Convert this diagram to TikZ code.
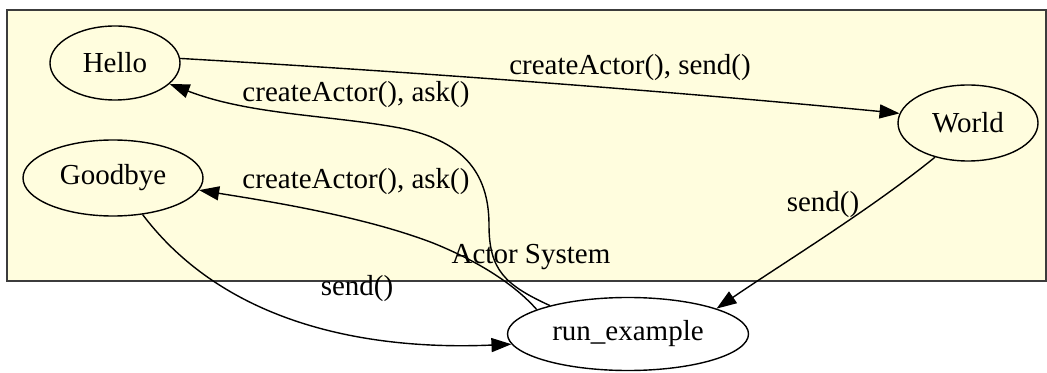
\documentclass[tikz,border=0pt]{standalone}
\usepackage{fontspec}
\setmainfont{Liberation Serif}
\usetikzlibrary{arrows.meta,shapes.geometric}
\definecolor{clusterfill}{RGB}{255,253,222}
\definecolor{clusterline}{RGB}{60,60,60}
\tikzset{
  state/.style={ellipse,draw=black,line width=0.7pt,inner sep=0pt,font=\fontsize{14.5}{17}\selectfont},
  edge/.style={draw=black,line width=0.7pt,-{Triangle[length=10pt,width=7pt]}},
  lbl/.style={inner sep=0pt,font=\fontsize{14.5}{17}\selectfont},
}
\begin{document}
\begin{tikzpicture}[x=0.5pt,y=-0.5pt]
\useasboundingbox (0,0) rectangle (1047,373);
% cluster
\path[fill=clusterfill,draw=clusterline,line width=1.1pt] (7,10) rectangle (1046,281);
\node[lbl] (cl) at (531,257) {Actor System};
% nodes
\node[state,minimum width=65pt,minimum height=37pt] (hello) at (115,63) {Hello};
\node[state,minimum width=90pt,minimum height=38pt] (goodbye) at (113,178) {Goodbye};
\node[state,minimum width=70pt,minimum height=38pt] (world) at (968,123) {World};
\node[state,fill=white,minimum width=120.5pt,minimum height=36.5pt] (runex) at (628,334) {run\_example};
% edges
\draw[edge] (hello.4) .. controls (450,74) and (700,94) .. (world.172);
\node[lbl] (l1) at (630,68) {createActor(), send()};
\draw[edge] (runex.160) .. controls (505,285) and (489,270) .. (489,225)
  .. controls (489,170) and (460,140) .. (400,128)
  .. controls (330,115) and (250,115) .. (hello.-21);
\node[lbl] (l2) at (356,95) {createActor(), ask()};
\draw[edge] (runex.165) .. controls (515,285) and (480,262) .. (433,243)
  .. controls (360,215) and (260,200) .. (goodbye.-8);
\node[lbl] (l3) at (356,182) {createActor(), ask()};
\draw[edge] (goodbye.-51) .. controls (230,330) and (380,350) .. (runex.185);
\node[lbl] (l4) at (357,289) {send()};
\draw[edge] (world.226) .. controls (870,210) and (780,265) .. (runex.16);
\node[lbl] (l5) at (823,205) {send()};
\end{tikzpicture}
\end{document}
